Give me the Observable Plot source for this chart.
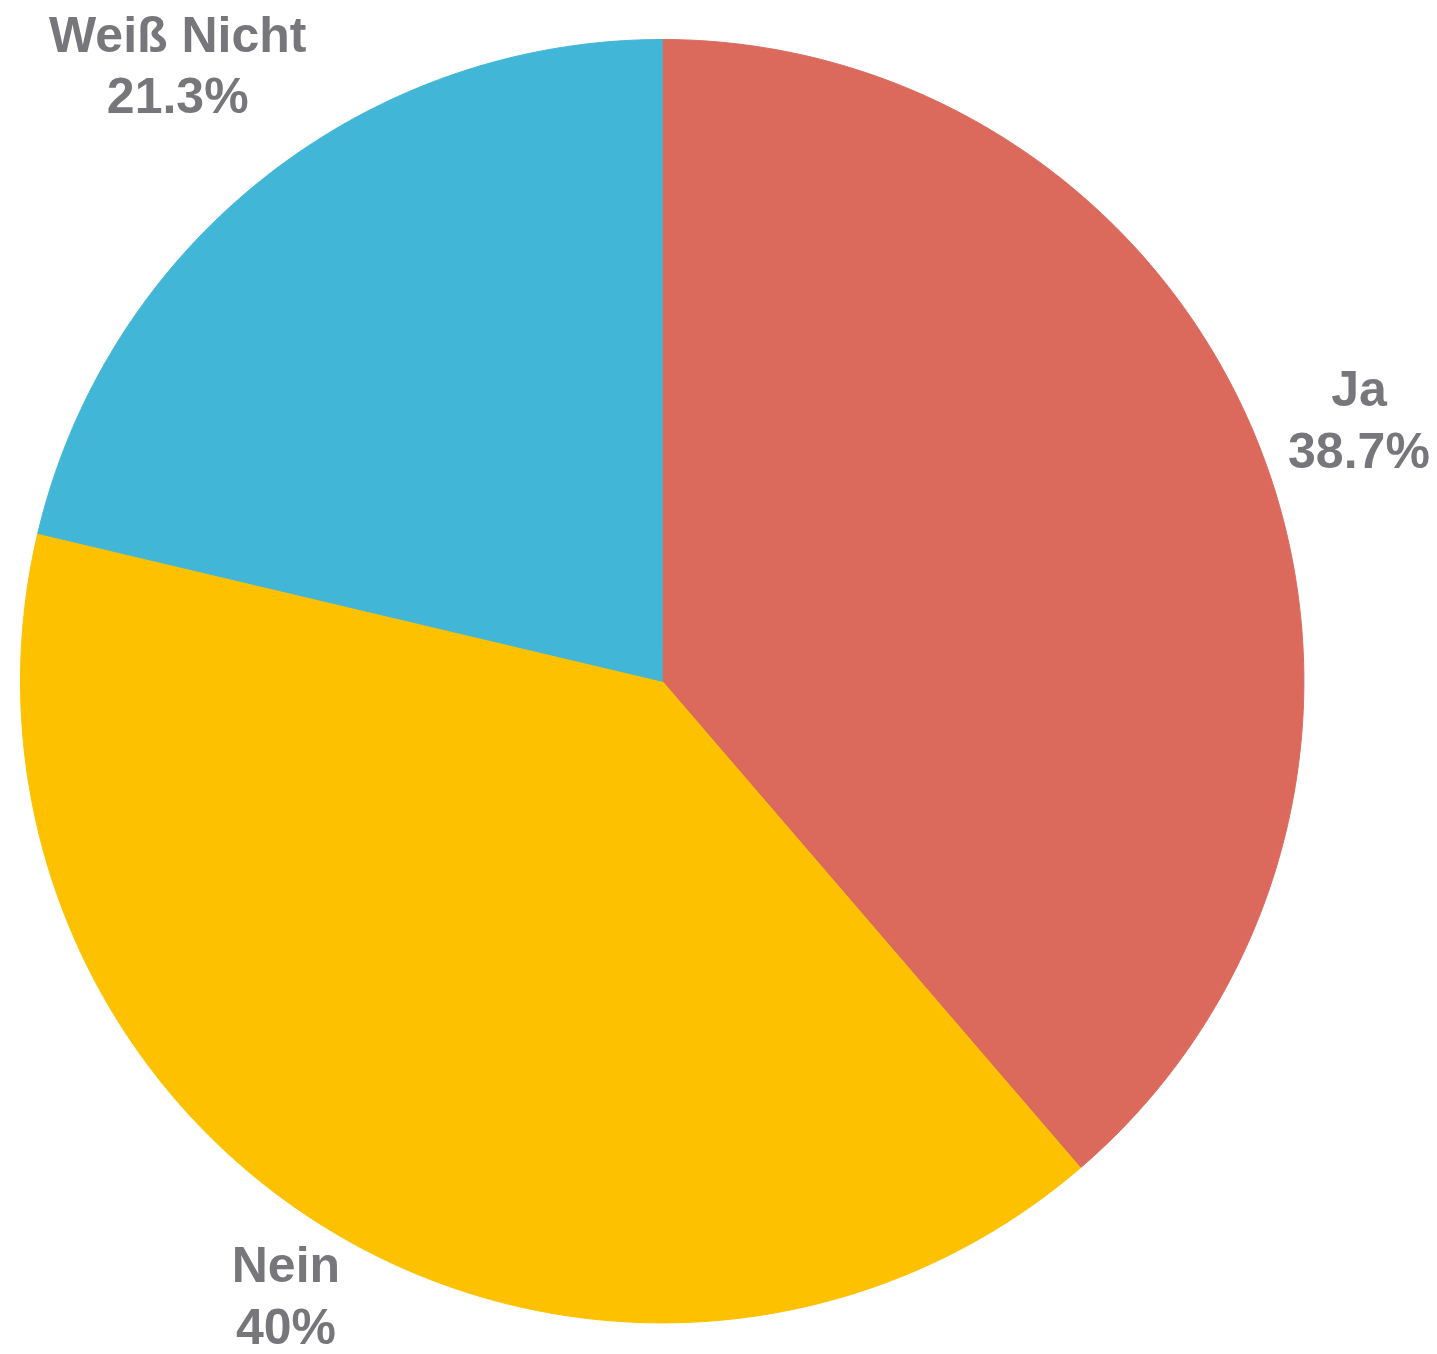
<!DOCTYPE html>
<html>
<head>
<meta charset="utf-8">
<script src="https://cdn.jsdelivr.net/npm/d3@7"></script>
<script src="https://cdn.jsdelivr.net/npm/@observablehq/plot@0.6"></script>
<style>
  html, body { margin: 0; padding: 0; background: #fff; }
  #chart svg { display: block; }
</style>
</head>
<body>
<div id="chart"></div>
<script>
// ---- data ----
const categories = ["Ja", "Nein", "Weiß Nicht"];
const shares = [38.7, 40, 21.3];
const shareLabels = ["38.7%", "40%", "21.3%"];
const colors = ["#DB6A5D", "#FDC100", "#42B6D6"];

// ---- layout ----
const W = 1437, H = 1354;
const cx = 661.7, cy = 680.7, R = 641.7;
const labelRadius = [1.158, 1.128, 1.217];

const arcs = d3.pie().sort(null).value(d => d)(shares);

// slice polygons in unit coordinates (y up)
const slicePts = [];
arcs.forEach((a, i) => {
  const n = Math.max(2, Math.ceil((a.endAngle - a.startAngle) / 0.005));
  slicePts.push({cat: categories[i], x: 0, y: 0});
  for (let k = 0; k <= n; k++) {
    const t = a.startAngle + (a.endAngle - a.startAngle) * k / n;
    slicePts.push({cat: categories[i], x: Math.sin(t), y: Math.cos(t)});
  }
  slicePts.push({cat: categories[i], x: 0, y: 0});
});

const labelData = arcs.map((a, i) => {
  const m = (a.startAngle + a.endAngle) / 2;
  return {
    text: categories[i] + "\n" + shareLabels[i],
    x: labelRadius[i] * Math.sin(m),
    y: labelRadius[i] * Math.cos(m)
  };
});

const chart = Plot.plot({
  width: W,
  height: H,
  margin: 0,
  style: {background: "#fff"},
  x: {domain: [-1, 1], range: [cx - R, cx + R], axis: null},
  y: {domain: [-1, 1], range: [cy + R, cy - R], axis: null},
  color: {domain: categories, range: colors},
  marks: [
    Plot.line(slicePts, {
      x: "x", y: "y", z: "cat",
      fill: "cat", stroke: "cat", strokeWidth: 1,
      curve: "linear"
    }),
    Plot.text(labelData, {
      x: "x", y: "y", text: "text",
      fill: "#77767B",
      fontSize: 50,
      fontWeight: "bold",
      fontFamily: "Liberation Sans, Arial, sans-serif",
      lineHeight: 1.24,
      textAnchor: "middle",
      lineAnchor: "middle",
      dy: -6
    })
  ]
});
document.getElementById("chart").appendChild(chart);
</script>
</body>
</html>
